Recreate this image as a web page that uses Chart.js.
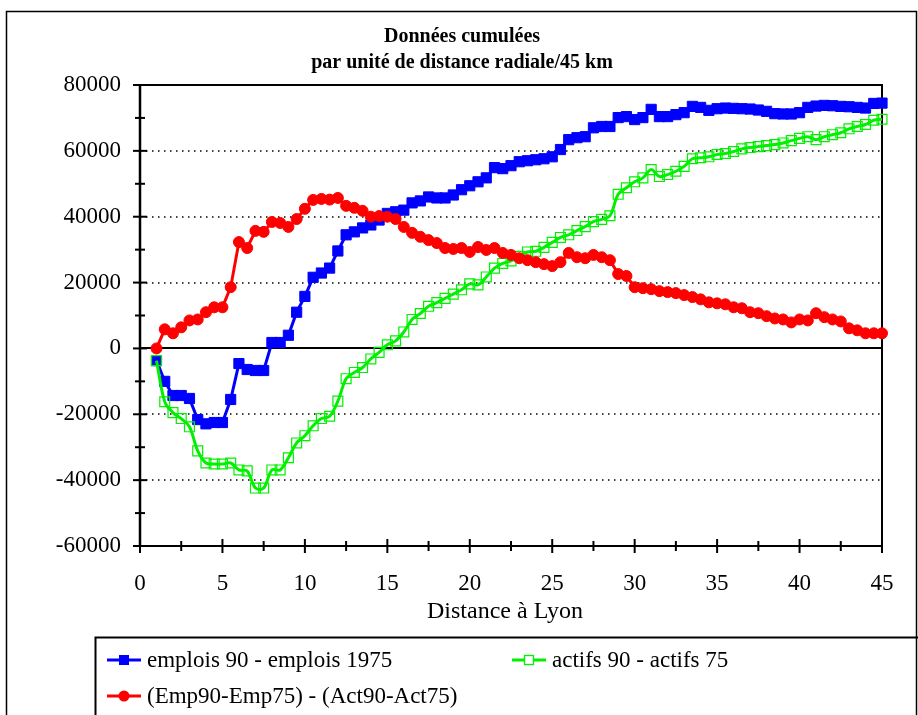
<!DOCTYPE html>
<html><head><meta charset="utf-8">
<script src="https://cdn.jsdelivr.net/npm/chart.js@4/dist/chart.umd.min.js"></script>
<style>html,body{margin:0;padding:0;background:#fff;}#wrap{width:918px;height:715px;position:relative;}</style>
</head><body><div id="wrap"><canvas id="c" width="918" height="715"></canvas></div>
<script>
const distances = [1,1.5,2,2.5,3,3.5,4,4.5,5,5.5,6,6.5,7,7.5,8,8.5,9,9.5,10,10.5,
 11,11.5,12,12.5,13,13.5,14,14.5,15,15.5,16,16.5,17,17.5,18,18.5,19,19.5,20,20.5,
 21,21.5,22,22.5,23,23.5,24,24.5,25,25.5,26,26.5,27,27.5,28,28.5,29,29.5,30,30.5,
 31,31.5,32,32.5,33,33.5,34,34.5,35,35.5,36,36.5,37,37.5,38,38.5,39,39.5,40,40.5,
 41,41.5,42,42.5,43,43.5,44,44.5,45];
const emploisDiff = [-3700,-10000,-14300,-14300,-15200,-21600,-22900,-22500,-22500,-15500,
 -4600,-6400,-6700,-6700,1800,1800,4000,11000,15800,21600,
 22900,24400,29600,34500,35400,36600,37500,39000,41000,41500,
 42000,44200,44800,46000,45700,45700,46600,48200,49400,50600,
 51800,54900,54600,55500,56700,57000,57300,57600,58200,60400,
 63400,64000,64300,67000,67400,67400,70100,70400,69500,70100,
 72600,70400,70400,71000,71600,73500,73200,72300,72800,73000,
 72900,72800,72700,72400,72000,71300,71200,71200,71600,73200,
 73600,73800,73700,73500,73400,73200,73000,74400,74500];
const actifsDiff = [-3700,-16200,-19500,-21300,-23800,-31100,-34800,-35100,-35100,-34800,
 -36900,-37200,-42400,-42400,-36900,-36900,-33200,-28700,-26500,-23500,
 -21300,-20600,-16000,-9200,-7300,-5800,-3200,-1200,1100,2300,
 5000,8800,10600,12800,13900,15200,16500,17800,19600,19300,
 21700,24400,25800,26600,28000,29300,29500,30700,32200,33700,
 34500,35800,37000,38500,39200,40300,46800,48800,50600,51800,
 54300,52200,52800,53800,55300,57600,57900,58200,58900,59200,
 59800,60600,61000,61300,61600,61900,62400,63100,63800,64300,
 63400,64300,64900,65500,66700,67400,68000,69300,69600];
const ecartDiff = [0,5800,4600,6400,8500,8800,11000,12500,12500,18600,
 32300,30500,35700,35400,38400,38100,36900,39300,42400,45100,
 45400,45200,45700,43300,42700,41800,40000,40200,40000,39300,
 36900,35100,33900,32900,32000,30500,30200,30500,29300,30800,
 29900,30500,29000,28400,27400,26800,26200,25600,25000,26200,
 29000,27700,27400,28400,27700,26800,22600,22000,18600,18300,
 18000,17400,17100,16800,16200,15600,14900,14000,13700,13400,
 12500,12200,11000,10700,9800,9100,8800,7900,8800,8500,
 10700,9500,8800,8200,6100,5500,4600,4600,4600];
const xTickValues = [0,5,10,15,20,25,30,35,40,45];
const yTickValues = [-60000,-40000,-20000,0,20000,40000,60000,80000];
const seriesLabels = ["emplois 90 - emplois 1975","actifs 90 - actifs 75","(Emp90-Emp75) - (Act90-Act75)"];
const titleLines = ["Données cumulées","par unité de distance radiale/45 km"];
const xAxisTitle = "Distance à Lyon";

const SERIF = '"Liberation Serif","Times New Roman",serif';
const BLUE = '#0000FF', GREEN = '#00F000', RED = '#FF0000';

function pts(vals){ return distances.map((d,i)=>({x:d,y:vals[i]})); }

const decor = {
  id:'decor',
  beforeDraw(chart){
    const c = chart.ctx; c.save(); c.fillStyle='#fff'; c.fillRect(0,0,chart.width,chart.height); c.restore();
  },
  beforeDatasetsDraw(chart){
    const c = chart.ctx, a = chart.chartArea, x = chart.scales.x, y = chart.scales.y;
    c.save();
    c.strokeStyle = '#000';
    c.lineWidth = 1.5; c.setLineDash([1.5,4.5]);
    yTickValues.forEach(v=>{
      if (v===0 || v===y.min || v===y.max) return;
      const py = Math.round(y.getPixelForValue(v));
      c.beginPath(); c.moveTo(a.left, py); c.lineTo(a.right, py); c.stroke();
    });
    c.setLineDash([]);
    c.lineWidth = 2;
    const y0 = Math.round(y.getPixelForValue(0));
    c.beginPath(); c.moveTo(a.left, y0); c.lineTo(a.right, y0); c.stroke();
    c.beginPath(); c.moveTo(a.left, a.top); c.lineTo(a.right, a.top); c.lineTo(a.right, a.bottom); c.stroke();
    c.beginPath(); c.moveTo(a.left, a.bottom); c.lineTo(a.right, a.bottom); c.stroke();
    c.lineWidth = 2.5;
    c.beginPath(); c.moveTo(a.left, a.top); c.lineTo(a.left, a.bottom); c.stroke();
    c.lineWidth = 2;
    for (let i=0;i<yTickValues.length;i++){
      const v = yTickValues[i];
      const py = y.getPixelForValue(v);
      c.beginPath(); c.moveTo(a.left-7, py); c.lineTo(a.left+7, py); c.stroke();
      if (i<yTickValues.length-1){
        const pm = y.getPixelForValue((v+yTickValues[i+1])/2);
        c.beginPath(); c.moveTo(a.left-5, pm); c.lineTo(a.left+5, pm); c.stroke();
      }
    }
    for (let i=0;i<xTickValues.length;i++){
      const v = xTickValues[i];
      const px = x.getPixelForValue(v);
      c.beginPath(); c.moveTo(px, a.bottom-7); c.lineTo(px, a.bottom+7); c.stroke();
      if (i<xTickValues.length-1){
        const pm = x.getPixelForValue((v+xTickValues[i+1])/2);
        c.beginPath(); c.moveTo(pm, a.bottom-5); c.lineTo(pm, a.bottom+5); c.stroke();
      }
    }
    c.restore();
  },
  afterDraw(chart){
    const c = chart.ctx, a = chart.chartArea;
    c.save();
    c.fillStyle = '#000'; c.strokeStyle = '#000';
    c.lineWidth = 1.5;
    c.strokeRect(6.5, 11.5, 910, 720);
    c.textAlign = 'center'; c.textBaseline = 'middle';
    c.font = 'bold 20px ' + SERIF;
    c.fillText(titleLines[0], 462, 37);
    c.fillText(titleLines[1], 462, 63);
    c.font = '24px ' + SERIF;
    c.fillText(xAxisTitle, 505, 612);
    c.lineWidth = 2;
    c.strokeRect(95.5, 637.5, 840, 100);
    const items = [
      {label:seriesLabels[0], color:BLUE, shape:'sq', x:107, y:660},
      {label:seriesLabels[1], color:GREEN, shape:'osq', x:512, y:660},
      {label:seriesLabels[2], color:RED, shape:'circ', x:107, y:696}
    ];
    c.textAlign = 'left';
    items.forEach(it=>{
      c.strokeStyle = it.color; c.lineWidth = 3;
      c.beginPath(); c.moveTo(it.x, it.y); c.lineTo(it.x+34, it.y); c.stroke();
      const cx = it.x+17;
      if (it.shape==='sq'){ c.fillStyle = it.color; c.fillRect(cx-5, it.y-5, 10, 10); }
      else if (it.shape==='osq'){ c.fillStyle='#fff'; c.fillRect(cx-4.5,it.y-4.5,9,9); c.lineWidth=1.3; c.strokeRect(cx-4.5, it.y-4.5, 9, 9); }
      else { c.fillStyle = it.color; c.beginPath(); c.arc(cx, it.y, 5.5, 0, Math.PI*2); c.fill(); }
      c.fillStyle = '#000'; c.font = '23px ' + SERIF;
      c.fillText(it.label, it.x+40, it.y+1);
    });
    c.restore();
  }
};

new Chart(document.getElementById('c'), {
  type:'line',
  data:{ datasets:[
    {label:seriesLabels[0], data:pts(emploisDiff), borderColor:BLUE, backgroundColor:BLUE, borderWidth:3,
     pointStyle:'rect', pointRadius:7.2, pointBackgroundColor:BLUE, pointBorderColor:BLUE, pointBorderWidth:1,
     tension:0, clip:false, order:3},
    {label:seriesLabels[1], data:pts(actifsDiff), borderColor:GREEN, backgroundColor:'rgba(0,0,0,0)', borderWidth:3,
     pointStyle:'rect', pointRadius:7, pointBackgroundColor:'rgba(0,0,0,0)', pointBorderColor:GREEN, pointBorderWidth:1.2,
     tension:0.35, clip:false, order:2},
    {label:seriesLabels[2], data:pts(ecartDiff), borderColor:RED, backgroundColor:RED, borderWidth:3,
     pointStyle:'circle', pointRadius:5.5, pointBackgroundColor:RED, pointBorderColor:RED, pointBorderWidth:1,
     tension:0, clip:false, order:1}
  ]},
  options:{
    responsive:false, animation:false, events:[],
    layout:{padding:{left:0,right:36,top:85,bottom:0}},
    plugins:{legend:{display:false}, title:{display:false}, tooltip:{enabled:false}},
    scales:{
      x:{type:'linear', min:0, max:45,
         grid:{display:false, drawTicks:false}, border:{display:false},
         afterBuildTicks(s){ s.ticks = xTickValues.map(v=>({value:v})); },
         ticks:{autoSkip:false, maxRotation:0, padding:24, color:'#000', font:{family:SERIF, size:23}, callback:v=>String(v)},
         afterFit(s){ s.height = 169; }},
      y:{min:-60000, max:80000,
         grid:{display:false, drawTicks:false}, border:{display:false},
         afterBuildTicks(s){ s.ticks = yTickValues.map(v=>({value:v})); },
         ticks:{padding:19, color:'#000', font:{family:SERIF, size:23}, callback:v=>String(v)},
         afterFit(s){ s.width = 140; }}
    }
  },
  plugins:[decor]
});
</script></body></html>
